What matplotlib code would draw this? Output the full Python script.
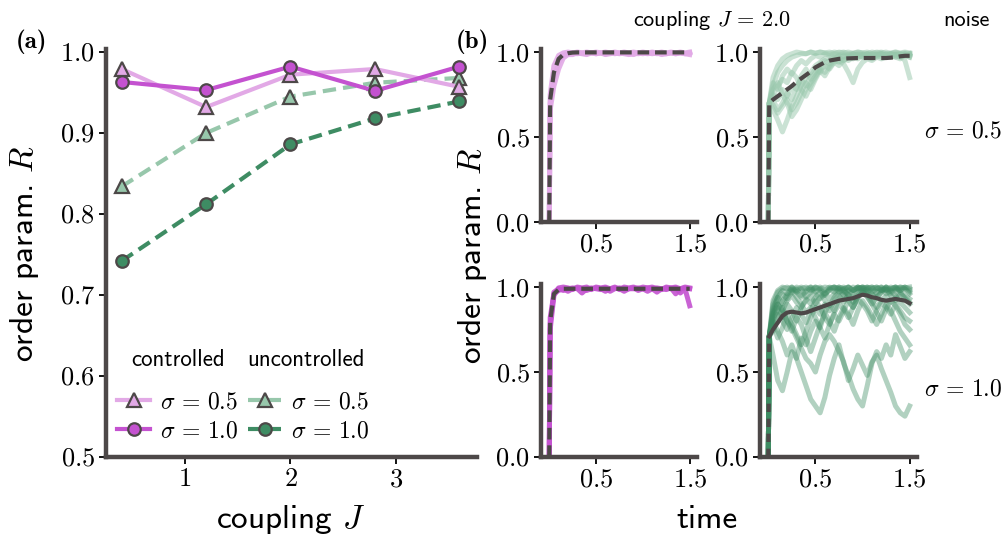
import numpy as np
import matplotlib
matplotlib.use('Agg')
import matplotlib.pyplot as plt

plt.rcParams['font.family'] = 'cmss10'
plt.rcParams['mathtext.fontset'] = 'cm'
plt.rcParams['axes.unicode_minus'] = False

######## dati pannello (a): R finale in funzione dell'accoppiamento J
J_vals = [0.4, 1.2, 2.0, 2.8, 3.6]
R_ctrl_05 = [0.979, 0.932, 0.972, 0.979, 0.957]
R_ctrl_10 = [0.963, 0.953, 0.982, 0.952, 0.982]
R_unc_05 = [0.834, 0.900, 0.945, 0.962, 0.968]
R_unc_10 = [0.742, 0.812, 0.886, 0.918, 0.939]

######## dati pannello (b): traiettorie R(t) per J=2.0
tempi = [0.0, 0.01, 0.05, 0.10, 0.15, 0.20, 0.25, 0.30, 0.35, 0.40, 0.45, 0.50,
         0.55, 0.60, 0.65, 0.70, 0.75, 0.80, 0.85, 0.90, 0.95, 1.00, 1.05, 1.10,
         1.15, 1.20, 1.25, 1.30, 1.35, 1.40, 1.45, 1.50]

# controllato, sigma=0.5
ctrl05_media = [0, 0.72, 0.88, 0.96, 0.985, 0.993, 0.997, 0.998, 0.998, 0.998, 0.998, 0.998,
                0.998, 0.998, 0.998, 0.998, 0.998, 0.998, 0.998, 0.998, 0.998, 0.998, 0.998, 0.998,
                0.998, 0.998, 0.998, 0.998, 0.998, 0.998, 0.998, 0.998]
ctrl05_traj = [
    [0, 0.70, 0.84, 0.94, 0.98, 0.99, 0.995, 0.99, 0.995, 0.99, 0.995, 0.99, 0.995, 0.99, 0.995, 0.99,
     0.995, 0.99, 0.985, 0.995, 0.99, 0.995, 0.99, 0.995, 0.99, 0.995, 0.99, 0.995, 0.99, 0.995, 0.99, 0.985],
    [0, 0.75, 0.92, 0.98, 0.995, 1.0, 0.995, 1.0, 0.995, 1.0, 0.995, 1.0, 0.995, 1.0, 0.995, 1.0,
     0.995, 1.0, 0.995, 1.0, 0.995, 1.0, 0.995, 1.0, 0.995, 1.0, 0.995, 1.0, 0.995, 1.0, 0.995, 1.0],
    [0, 0.66, 0.80, 0.90, 0.965, 0.985, 0.985, 0.995, 0.99, 0.985, 0.995, 0.99, 0.995, 0.985, 0.99, 0.995,
     0.99, 0.995, 0.99, 0.985, 0.995, 0.99, 0.995, 0.99, 0.995, 0.985, 0.99, 0.995, 0.99, 0.995, 0.99, 0.995],
]

# controllato, sigma=1.0
ctrl10_media = [0, 0.80, 0.96, 0.985, 0.99, 0.99, 0.99, 0.99, 0.99, 0.99, 0.99, 0.99,
                0.99, 0.99, 0.99, 0.99, 0.99, 0.99, 0.99, 0.99, 0.99, 0.99, 0.99, 0.99,
                0.99, 0.99, 0.99, 0.99, 0.99, 0.99, 0.99, 0.99]
ctrl10_traj = [
    [0, 0.78, 0.97, 0.99, 0.98, 0.99, 0.995, 0.99, 0.965, 0.99, 0.995, 0.99, 0.985, 0.995, 0.975, 0.99,
     0.995, 0.99, 0.99, 0.995, 0.98, 0.99, 0.995, 0.99, 0.97, 0.99, 0.995, 0.99, 0.995, 0.965, 0.99, 0.89],
    [0, 0.82, 0.96, 0.98, 0.99, 0.975, 0.99, 0.995, 0.99, 0.98, 0.99, 0.995, 0.99, 0.975, 0.99, 0.995,
     0.99, 0.975, 0.99, 0.99, 0.995, 0.99, 0.975, 0.99, 0.995, 0.99, 0.985, 0.995, 0.96, 0.99, 0.995, 0.99],
    [0, 0.75, 0.95, 0.995, 1.0, 0.995, 0.985, 1.0, 0.995, 1.0, 0.985, 1.0, 0.995, 1.0, 0.99, 1.0,
     0.985, 1.0, 0.995, 1.0, 0.99, 1.0, 0.995, 1.0, 0.99, 0.985, 1.0, 0.995, 1.0, 0.99, 1.0, 0.995],
]

# non controllato, sigma=0.5
unc05_media = [0, 0.70, 0.72, 0.74, 0.76, 0.78, 0.80, 0.825, 0.845, 0.865, 0.885, 0.91,
               0.925, 0.94, 0.95, 0.955, 0.96, 0.962, 0.963, 0.964, 0.965, 0.965, 0.965, 0.965,
               0.965, 0.965, 0.965, 0.967, 0.97, 0.975, 0.978, 0.978]
unc05_traj = [
    [0, 0.70, 0.80, 0.88, 0.92, 0.95, 0.97, 0.98, 0.99, 0.99, 1.0, 0.995, 1.0, 0.995, 0.99, 1.0,
     0.995, 1.0, 0.99, 0.995, 1.0, 0.995, 0.99, 1.0, 0.995, 1.0, 0.99, 0.995, 1.0, 0.99, 0.995, 0.99],
    [0, 0.70, 0.66, 0.60, 0.53, 0.60, 0.68, 0.74, 0.80, 0.85, 0.88, 0.92, 0.94, 0.96, 0.97, 0.96,
     0.98, 0.97, 0.985, 0.98, 0.99, 0.985, 0.98, 0.99, 0.985, 0.99, 0.98, 0.99, 0.985, 0.99, 0.98, 0.99],
    [0, 0.70, 0.75, 0.72, 0.78, 0.74, 0.80, 0.78, 0.86, 0.90, 0.84, 0.88, 0.93, 0.95, 0.93, 0.96,
     0.97, 0.95, 0.97, 0.98, 0.97, 0.985, 0.98, 0.97, 0.98, 0.99, 0.98, 0.985, 0.97, 0.98, 0.95, 0.85],
    [0, 0.70, 0.78, 0.82, 0.75, 0.70, 0.62, 0.66, 0.72, 0.78, 0.82, 0.86, 0.90, 0.92, 0.90, 0.94,
     0.95, 0.93, 0.88, 0.82, 0.90, 0.94, 0.96, 0.95, 0.97, 0.96, 0.97, 0.98, 0.97, 0.96, 0.98, 0.97],
    [0, 0.70, 0.72, 0.66, 0.70, 0.76, 0.72, 0.80, 0.84, 0.80, 0.86, 0.90, 0.88, 0.93, 0.95, 0.97,
     0.96, 0.98, 0.97, 0.99, 0.98, 0.97, 0.99, 0.98, 0.99, 0.985, 0.99, 0.98, 0.99, 0.985, 0.99, 0.98],
    [0, 0.70, 0.85, 0.92, 0.96, 0.98, 0.99, 1.0, 0.995, 0.99, 1.0, 0.99, 1.0, 0.995, 1.0, 0.99,
     1.0, 0.995, 1.0, 0.99, 1.0, 0.995, 1.0, 0.99, 1.0, 0.995, 1.0, 0.99, 1.0, 0.995, 1.0, 0.995],
    [0, 0.70, 0.74, 0.80, 0.84, 0.82, 0.88, 0.85, 0.78, 0.74, 0.80, 0.85, 0.90, 0.88, 0.92, 0.95,
     0.94, 0.96, 0.95, 0.97, 0.96, 0.98, 0.97, 0.96, 0.98, 0.97, 0.98, 0.97, 0.98, 0.97, 0.98, 0.97],
    [0, 0.70, 0.82, 0.78, 0.86, 0.90, 0.87, 0.92, 0.95, 0.93, 0.96, 0.98, 0.97, 0.99, 0.98, 0.99,
     0.985, 0.99, 0.98, 0.99, 0.985, 0.99, 0.98, 0.99, 0.985, 0.99, 0.98, 0.99, 0.985, 0.99, 0.98, 0.99],
    [0, 0.70, 0.69, 0.64, 0.68, 0.72, 0.66, 0.70, 0.76, 0.82, 0.78, 0.84, 0.89, 0.86, 0.91, 0.94,
     0.92, 0.95, 0.97, 0.96, 0.98, 0.97, 0.99, 0.98, 0.97, 0.99, 0.98, 0.99, 0.98, 0.97, 0.99, 0.98],
]

# non controllato, sigma=1.0
unc10_media = [0, 0.71, 0.75, 0.79, 0.83, 0.85, 0.855, 0.85, 0.845, 0.85, 0.86, 0.87,
               0.88, 0.89, 0.90, 0.91, 0.92, 0.925, 0.93, 0.935, 0.945, 0.955, 0.95, 0.94,
               0.935, 0.925, 0.92, 0.925, 0.93, 0.925, 0.92, 0.905]
unc10_traj = [
    [0, 0.71, 0.90, 0.97, 0.99, 1.0, 0.98, 1.0, 0.99, 1.0, 0.98, 1.0, 0.99, 1.0, 0.995, 1.0,
     0.99, 1.0, 0.98, 1.0, 0.99, 1.0, 0.995, 1.0, 0.99, 1.0, 0.98, 1.0, 0.99, 1.0, 0.995, 1.0],
    [0, 0.71, 0.85, 0.92, 0.96, 0.93, 0.97, 0.99, 0.95, 0.98, 1.0, 0.97, 0.99, 0.96, 0.98, 1.0,
     0.99, 0.97, 1.0, 0.98, 0.99, 1.0, 0.97, 0.99, 1.0, 0.98, 0.99, 0.96, 0.98, 1.0, 0.99, 0.97],
    [0, 0.71, 0.80, 0.88, 0.82, 0.90, 0.86, 0.80, 0.88, 0.92, 0.95, 0.90, 0.94, 0.97, 0.93, 0.96,
     0.99, 0.95, 0.98, 0.96, 0.99, 1.0, 0.98, 0.95, 0.97, 0.99, 0.96, 0.98, 1.0, 0.97, 0.95, 0.93],
    [0, 0.71, 0.78, 0.70, 0.76, 0.84, 0.78, 0.72, 0.66, 0.74, 0.82, 0.88, 0.84, 0.90, 0.86, 0.92,
     0.95, 0.91, 0.96, 0.93, 0.97, 0.99, 0.96, 0.92, 0.88, 0.92, 0.95, 0.91, 0.94, 0.97, 0.93, 0.90],
    [0, 0.71, 0.74, 0.82, 0.88, 0.80, 0.74, 0.82, 0.78, 0.70, 0.62, 0.70, 0.78, 0.85, 0.80, 0.74,
     0.82, 0.88, 0.84, 0.78, 0.86, 0.92, 0.88, 0.83, 0.78, 0.84, 0.90, 0.86, 0.80, 0.74, 0.70, 0.66],
    [0, 0.71, 0.60, 0.45, 0.39, 0.50, 0.62, 0.58, 0.70, 0.66, 0.74, 0.80, 0.76, 0.85, 0.90, 0.86,
     0.93, 0.96, 0.92, 0.88, 0.94, 0.97, 0.95, 0.90, 0.85, 0.80, 0.87, 0.92, 0.89, 0.84, 0.78, 0.75],
    [0, 0.71, 0.80, 0.74, 0.68, 0.60, 0.66, 0.58, 0.50, 0.42, 0.34, 0.30, 0.26, 0.35, 0.48, 0.58,
     0.66, 0.55, 0.48, 0.40, 0.34, 0.30, 0.42, 0.55, 0.62, 0.58, 0.66, 0.60, 0.72, 0.65, 0.58, 0.62],
    [0, 0.71, 0.84, 0.90, 0.86, 0.80, 0.76, 0.70, 0.64, 0.58, 0.55, 0.50, 0.60, 0.68, 0.72, 0.68,
     0.62, 0.56, 0.45, 0.52, 0.60, 0.54, 0.48, 0.56, 0.60, 0.52, 0.45, 0.38, 0.30, 0.26, 0.24, 0.30],
    [0, 0.71, 0.88, 0.94, 0.90, 0.95, 0.98, 0.94, 0.90, 0.85, 0.88, 0.82, 0.76, 0.70, 0.78, 0.84,
     0.80, 0.86, 0.92, 0.88, 0.94, 0.97, 0.99, 0.96, 0.93, 0.97, 1.0, 0.98, 0.95, 0.91, 0.88, 0.85],
    [0, 0.71, 0.82, 0.86, 0.92, 0.96, 1.0, 0.97, 0.99, 0.94, 0.97, 1.0, 0.98, 0.95, 0.99, 1.0,
     0.97, 0.99, 1.0, 0.98, 1.0, 0.99, 1.0, 0.97, 0.99, 1.0, 0.98, 0.99, 1.0, 0.98, 0.99, 0.96],
    [0, 0.71, 0.92, 0.98, 1.0, 0.99, 1.0, 0.98, 1.0, 0.99, 1.0, 0.99, 1.0, 0.98, 1.0, 0.99,
     1.0, 0.99, 1.0, 0.98, 1.0, 0.99, 1.0, 0.99, 1.0, 0.98, 1.0, 0.99, 1.0, 0.99, 1.0, 0.99],
    [0, 0.71, 0.86, 0.94, 0.98, 0.96, 0.99, 0.97, 0.94, 0.97, 0.99, 0.96, 0.93, 0.96, 0.99, 0.97,
     1.0, 0.98, 0.95, 0.98, 1.0, 0.97, 0.99, 1.0, 0.96, 0.98, 1.0, 0.97, 0.99, 0.98, 1.0, 0.98],
    [0, 0.71, 0.83, 0.90, 0.86, 0.92, 0.95, 0.91, 0.88, 0.93, 0.90, 0.94, 0.97, 0.92, 0.89, 0.94,
     0.97, 0.99, 0.95, 0.91, 0.95, 0.98, 0.94, 0.90, 0.94, 0.97, 0.99, 0.95, 0.92, 0.96, 0.94, 0.91],
    [0, 0.71, 0.76, 0.84, 0.80, 0.75, 0.82, 0.88, 0.84, 0.79, 0.86, 0.92, 0.88, 0.82, 0.78, 0.85,
     0.90, 0.87, 0.82, 0.88, 0.93, 0.90, 0.86, 0.80, 0.86, 0.91, 0.88, 0.84, 0.90, 0.86, 0.82, 0.80],
]

######## colori
rosa = '#e2a9e6'
magenta = '#c452d0'
verde_chiaro = '#97c7ab'
verde_scuro = '#3e8c63'
grigio = '#4d4848'

W, H = 1003, 536
fig = plt.figure(figsize=(W / 100, H / 100), dpi=100)


def assi_px(l, t, r, b):
    # crea assi date le coordinate in pixel (origine in alto a sinistra)
    return fig.add_axes([l / W, 1 - b / H, (r - l) / W, (b - t) / H])


def stile(ax):
    for s in ['top', 'right']:
        ax.spines[s].set_visible(False)
    for s in ['left', 'bottom']:
        ax.spines[s].set_linewidth(3.2)
        ax.spines[s].set_color(grigio)
    ax.tick_params(direction='out', length=5, width=1.3, color='black', pad=3, labelsize=19)


def txt(x, y, s, **kw):
    fig.text(x / W, 1 - y / H, s, ha='center', va='center', **kw)


######## pannello (a)
ax = assi_px(106, 49, 477, 457)
stile(ax)
l_u05, = ax.plot(J_vals, R_unc_05, color=verde_chiaro, lw=3, dashes=(3.2, 1.7), marker='^', ms=10,
                 mfc=verde_chiaro, mec=grigio, mew=1.6)
l_u10, = ax.plot(J_vals, R_unc_10, color=verde_scuro, lw=3, dashes=(3.2, 1.7), marker='o', ms=9,
                 mfc=verde_scuro, mec=grigio, mew=1.6)
l_c05, = ax.plot(J_vals, R_ctrl_05, color=rosa, lw=3, marker='^', ms=10,
                 mfc=rosa, mec=grigio, mew=1.6)
l_c10, = ax.plot(J_vals, R_ctrl_10, color=magenta, lw=3, marker='o', ms=9,
                 mfc=magenta, mec=grigio, mew=1.6)
ax.set_xlim(0.251, 3.768)
ax.set_ylim(0.5, 1.0037)
ax.set_xticks([1, 2, 3], [r'$1$', r'$2$', r'$3$'])
ax.set_yticks([0.5, 0.6, 0.7, 0.8, 0.9, 1.0],
              [r'$0.5$', r'$0.6$', r'$0.7$', r'$0.8$', r'$0.9$', r'$1.0$'])

s05 = r'$\sigma\,=\,0.5$'
s10 = r'$\sigma\,=\,1.0$'
ax.legend([l_c05, l_c10, l_u05, l_u10], [s05, s10, s05, s10],
          ncol=2, frameon=False, fontsize=17, loc='lower left',
          bbox_to_anchor=(0.03, 0.035), handlelength=1.4, handletextpad=0.4,
          columnspacing=0.45, labelspacing=0.3, borderpad=0, borderaxespad=0)
txt(178, 360, 'controlled', fontsize=16.5)
txt(306, 360, 'uncontrolled', fontsize=16.5)

txt(25, 253, r'order param. $R$', fontsize=24, rotation=90)
txt(291, 520, r'coupling $J$', fontsize=24)
txt(31, 42, '(a)', fontsize=18, family='cmb10')

######## pannello (b)
pannelli = [
    ((541, 49, 697, 222), ctrl05_traj, ctrl05_media, rosa, 0.9, True),
    ((760, 49, 917, 222), unc05_traj, unc05_media, verde_chiaro, 0.5, True),
    ((541, 284, 697, 457), ctrl10_traj, ctrl10_media, magenta, 0.9, True),
    ((760, 284, 917, 457), unc10_traj, unc10_media, verde_scuro, 0.4, False),
]
for pos, traj, media, col, alfa, tratteggio in pannelli:
    axb = assi_px(*pos)
    stile(axb)
    for r in traj:
        axb.plot(tempi, r, color=col, lw=3.6, alpha=alfa, solid_joinstyle='round')
    if tratteggio:
        axb.plot(tempi, media, color=grigio, lw=3, dashes=(2.8, 1.4))
    else:
        axb.plot(tempi[1:], media[1:], color=grigio, lw=3, solid_joinstyle='round')
        axb.plot(tempi[:2], media[:2], color=grigio, lw=3, dashes=(2.0, 1.6))
    axb.set_xlim(-0.088, 1.578)
    axb.set_ylim(0, 1.018)
    axb.set_xticks([0.5, 1.5], [r'$0.5$', r'$1.5$'])
    axb.set_yticks([0.0, 0.5, 1.0], [r'$0.0$', r'$0.5$', r'$1.0$'])

txt(712, 21, r'coupling $J\,=\,2.0$', fontsize=16)
txt(966, 21, 'noise', fontsize=16)
txt(963, 132, s05, fontsize=17)
txt(963, 390, s10, fontsize=17)
txt(473, 255, r'order param. $R$', fontsize=24, rotation=90)
txt(707, 520, 'time', fontsize=24)
txt(472, 42, '(b)', fontsize=18, family='cmb10')

fig.savefig('out.png', dpi=100)
